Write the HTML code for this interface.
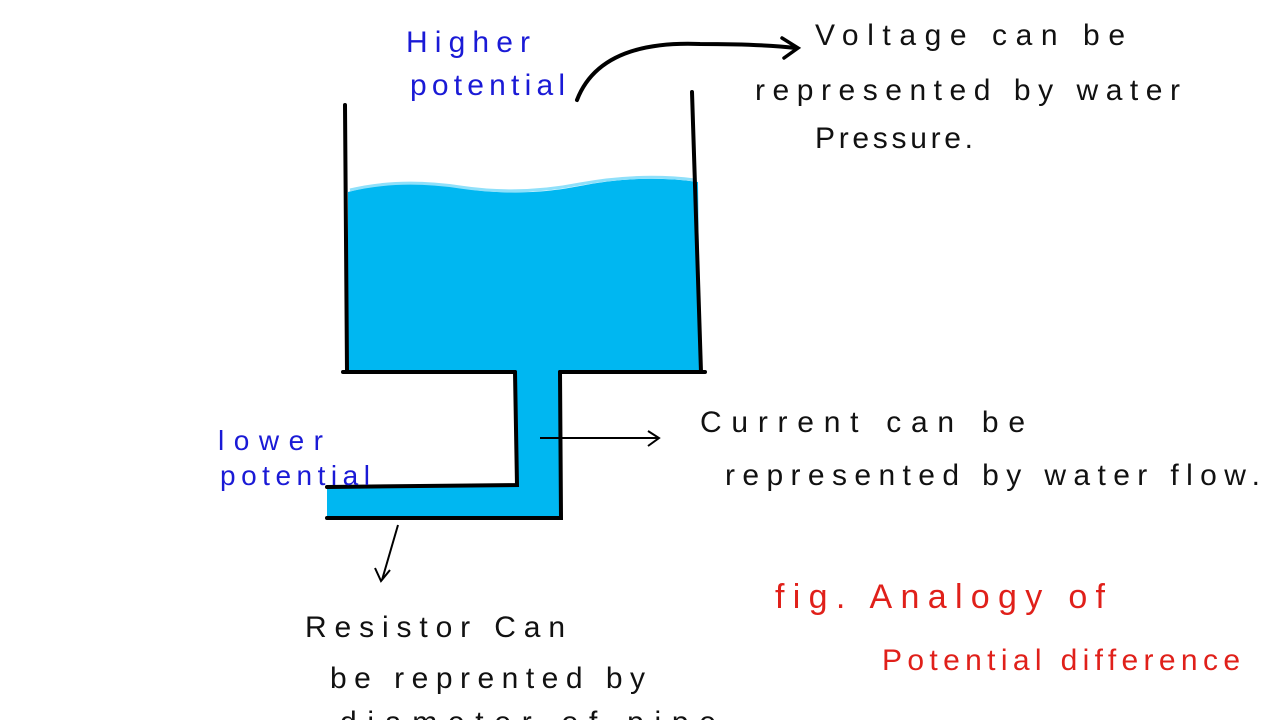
<!DOCTYPE html>
<html><head><meta charset="utf-8"><style>
html,body{margin:0;padding:0;background:#fff;width:1280px;height:720px;overflow:hidden}
svg text{font-family:"Liberation Sans",sans-serif}
</style></head><body>
<svg width="1280" height="720" viewBox="0 0 1280 720" xmlns="http://www.w3.org/2000/svg">
<path d="M348,192 Q400,178 460,188 Q520,198 580,186 Q640,174 698,182 L700,372 L348,372 Z" fill="#00b7f1"/>
<rect x="516" y="370" width="44" height="148" fill="#00b7f1"/>
<rect x="327" y="485" width="233" height="33" fill="#00b7f1"/>
<path d="M350,190 Q400,178 460,187 Q520,196 580,184 Q640,173 695,180" stroke="#8fe0fa" stroke-width="3" fill="none"/>
<g stroke="#000" stroke-width="4" fill="none" stroke-linecap="round">
<path d="M345,105 L347,372"/>
<path d="M692,92 L701,372"/>
<path d="M343,372 L515,372"/>
<path d="M560,372 L705,372"/>
<path d="M515,372 L517,485 L327,487"/>
<path d="M560,372 L561,518 L327,518"/>
<path d="M577,100 Q600,40 700,44 Q760,44 796,48"/>
<path d="M782,38 L798,48 L784,58" stroke-width="3.5"/>
</g>
<g stroke="#000" stroke-width="2" fill="none">
<path d="M540,438 L658,438"/>
<path d="M648,431 L659,438 L648,446"/>
<path d="M398,525 L382,580"/>
<path d="M375,568 L381,581 L390,570"/>
</g>
<g fill="#1a1ad6" font-size="30">
<text x="406" y="52" textLength="124" lengthAdjust="spacing">Higher</text>
<text x="410" y="95" textLength="155" lengthAdjust="spacing">potential</text>
<text x="218" y="450" font-size="28" textLength="105" lengthAdjust="spacing">lower</text>
<text x="220" y="485" font-size="28" textLength="150" lengthAdjust="spacing">potential</text>
</g>
<g fill="#111" font-size="30">
<text x="815" y="45" textLength="310" lengthAdjust="spacing">Voltage  can  be</text>
<text x="755" y="100" textLength="425" lengthAdjust="spacing">represented by water</text>
<text x="815" y="148" textLength="158" lengthAdjust="spacing">Pressure.</text>
<text x="700" y="432" textLength="325" lengthAdjust="spacing">Current  can  be</text>
<text x="725" y="485" textLength="535" lengthAdjust="spacing">represented  by  water flow.</text>
<text x="305" y="637" textLength="260" lengthAdjust="spacing">Resistor  Can</text>
<text x="330" y="688" textLength="315" lengthAdjust="spacing">be  reprented  by</text>
<text x="340" y="732" textLength="395" lengthAdjust="spacing">diameter  of  pipe.</text>
</g>
<g fill="#e0201a">
<text x="775" y="608" font-size="34" textLength="330" lengthAdjust="spacing">fig. Analogy  of</text>
<text x="882" y="670" font-size="30" textLength="358" lengthAdjust="spacing">Potential difference</text>
</g>
</svg>
</body></html>
